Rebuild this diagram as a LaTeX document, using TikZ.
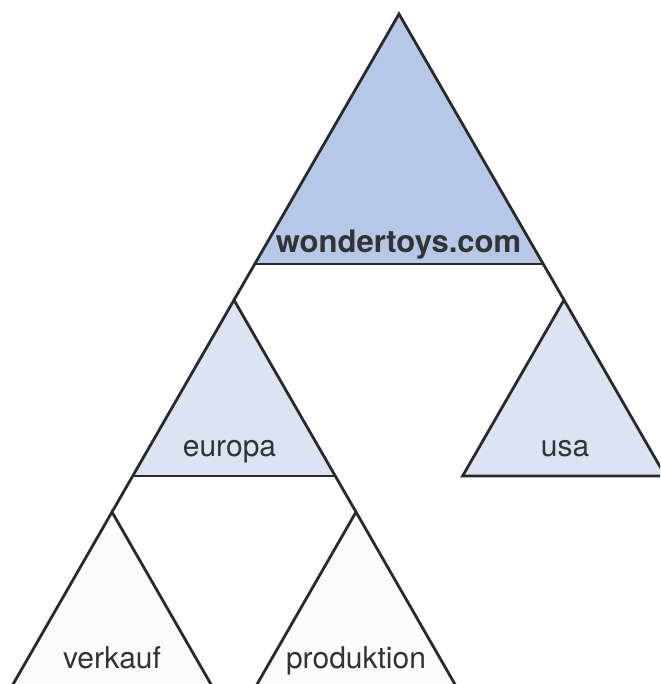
\documentclass[tikz,border=0pt]{standalone}
\usepackage{fontspec}
\setmainfont{TeX Gyre Heros}
\definecolor{rootblue}{HTML}{B5C8E8}
\definecolor{subblue}{HTML}{DCE3F3}
\definecolor{leafgray}{HTML}{FBFBFB}
\definecolor{edgegray}{HTML}{2A2A2A}
\definecolor{labelgray}{HTML}{333333}

\begin{document}
\begin{tikzpicture}[x=1pt, y=-1pt,
  edge/.style={draw=edgegray, line width=2.8pt, line join=miter},
  lbl/.style={anchor=base, inner sep=0pt, text=labelgray,
    font=\fontsize{30}{33}\selectfont}]

\useasboundingbox (0,0) rectangle (660,684);
\clip (0,0) rectangle (660,684);

% Apex of each domain
\coordinate (root) at (399,14);
\coordinate (eu)   at (234,300);
\coordinate (us)   at (564,300);
\coordinate (vk)   at (112,512);
\coordinate (pr)   at (356,512);

% Fills
\fill[rootblue] (root) -- (255,264) -- (543,264) -- cycle;
\fill[subblue]  (eu) -- (132.6,476) -- (335.4,476) -- cycle;
\fill[subblue]  (us) -- (462.6,476) -- (665.4,476) -- cycle;
\fill[leafgray] (vk) -- (4,700) -- (220,700) -- cycle;
\fill[leafgray] (pr) -- (248,700) -- (464,700) -- cycle;

% Sides, running on to the child apexes
\draw[edge] (eu) -- (root) -- (us);
\draw[edge] (255,264) -- (543,264);
\draw[edge] (vk) -- (eu) -- (pr);
\draw[edge] (132.6,476) -- (335.4,476);
\draw[edge] (462.6,476) -- (us) -- (665.4,476) -- cycle;
\draw[edge] (4,700) -- (vk) -- (220,700);
\draw[edge] (248,700) -- (pr) -- (464,700);

% Labels
\node[lbl, font=\fontsize{31}{34}\selectfont\bfseries] (rootlbl) at (398.5,253) {wondertoys.com};
\node[lbl] (eulbl) at (229.5,456) {europa};
\node[lbl] (uslbl) at (565,456) {usa};
\node[lbl] (vklbl) at (112,668) {verkauf};
\node[lbl] (prlbl) at (356,668) {produktion};

\end{tikzpicture}
\end{document}
